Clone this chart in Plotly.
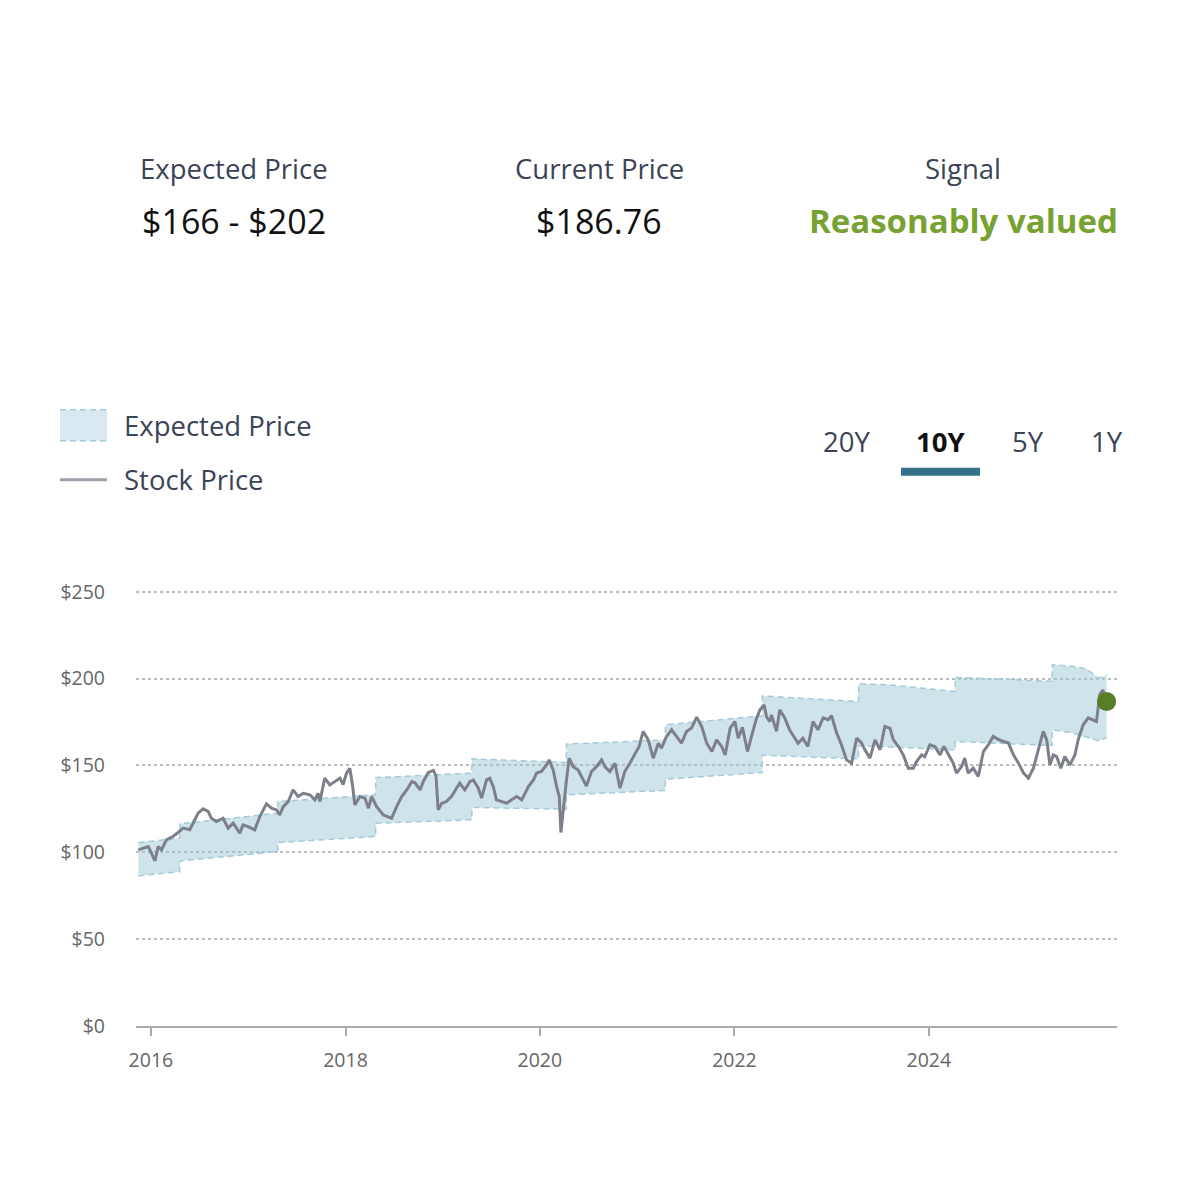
import plotly.graph_objects as go

# ---------------- data ----------------
stock_dates = [
    "2015-11-15", "2015-12-03", "2015-12-22", "2016-01-03", "2016-01-16", "2016-01-28", "2016-02-10",
    "2016-02-28", "2016-03-24", "2016-04-12", "2016-05-01", "2016-05-26", "2016-06-08", "2016-06-26",
    "2016-07-15", "2016-08-03", "2016-08-15", "2016-09-03", "2016-09-28", "2016-10-17", "2016-11-05",
    "2016-11-30", "2016-12-12", "2016-12-31", "2017-01-25", "2017-02-13", "2017-03-10", "2017-03-29",
    "2017-04-17", "2017-04-29", "2017-05-12", "2017-05-31", "2017-06-18", "2017-07-07", "2017-07-26",
    "2017-08-20", "2017-09-08", "2017-09-20", "2017-09-27", "2017-10-15", "2017-11-03", "2017-11-22",
    "2017-12-11", "2017-12-23", "2018-01-05", "2018-01-17", "2018-01-27", "2018-02-05", "2018-02-24",
    "2018-03-15", "2018-03-28", "2018-04-09", "2018-04-28", "2018-05-23", "2018-06-04", "2018-06-23",
    "2018-07-12", "2018-07-31", "2018-08-19", "2018-09-07", "2018-09-19", "2018-10-08", "2018-10-20",
    "2018-11-08", "2018-11-27", "2018-12-07", "2018-12-15", "2018-12-28", "2019-01-15", "2019-02-03",
    "2019-02-22", "2019-03-06", "2019-03-25", "2019-04-13", "2019-04-26", "2019-05-15", "2019-05-27",
    "2019-06-15", "2019-06-27", "2019-07-10", "2019-07-22", "2019-08-10", "2019-08-29", "2019-09-17",
    "2019-10-06", "2019-10-25", "2019-11-19", "2019-12-08", "2019-12-20", "2020-01-07", "2020-01-26",
    "2020-02-05", "2020-02-20", "2020-03-04", "2020-03-14", "2020-03-20", "2020-03-29", "2020-04-10",
    "2020-04-20", "2020-05-05", "2020-05-24", "2020-06-12", "2020-06-24", "2020-07-13", "2020-08-01",
    "2020-08-20", "2020-09-01", "2020-09-20", "2020-10-09", "2020-10-28", "2020-11-15", "2020-12-04",
    "2020-12-23", "2021-01-08", "2021-01-23", "2021-02-11", "2021-03-02", "2021-03-21", "2021-04-02",
    "2021-04-21", "2021-05-10", "2021-05-29", "2021-06-16", "2021-07-05", "2021-07-24", "2021-08-12",
    "2021-08-31", "2021-09-19", "2021-10-08", "2021-10-26", "2021-11-14", "2021-11-27", "2021-12-16",
    "2022-01-03", "2022-01-15", "2022-01-31", "2022-02-19", "2022-03-06", "2022-03-25", "2022-04-07",
    "2022-04-22", "2022-05-02", "2022-05-14", "2022-05-20", "2022-06-08", "2022-06-20", "2022-07-09",
    "2022-07-27", "2022-08-15", "2022-08-28", "2022-09-15", "2022-10-04", "2022-10-23", "2022-11-11",
    "2022-11-30", "2022-12-19", "2023-01-01", "2023-01-20", "2023-02-07", "2023-02-26", "2023-03-17",
    "2023-04-05", "2023-04-24", "2023-05-06", "2023-05-25", "2023-06-13", "2023-07-02", "2023-07-20",
    "2023-08-08", "2023-08-21", "2023-09-09", "2023-09-27", "2023-10-16", "2023-11-04", "2023-11-16",
    "2023-12-05", "2023-12-17", "2024-01-05", "2024-01-24", "2024-02-12", "2024-02-27", "2024-03-14",
    "2024-04-02", "2024-04-14", "2024-05-03", "2024-05-15", "2024-05-28", "2024-06-16", "2024-07-05",
    "2024-07-24", "2024-08-12", "2024-08-30", "2024-09-18", "2024-10-07", "2024-10-26", "2024-11-14",
    "2024-12-03", "2024-12-22", "2025-01-09", "2025-01-28", "2025-02-15", "2025-03-06", "2025-03-19",
    "2025-03-31", "2025-04-13", "2025-04-25", "2025-05-11", "2025-05-26", "2025-06-14", "2025-07-03",
    "2025-07-15", "2025-08-03", "2025-08-22", "2025-09-07", "2025-09-22", "2025-10-04", "2025-10-16",
    "2025-10-30",
]
stock_prices = [
    101.4, 102.3, 103.3, 99.5, 95.0, 103.3, 101.4,
    107.1, 109.1, 111.4, 113.9, 113.0, 116.8, 122.5,
    125.0, 123.5, 119.6, 117.7, 119.6, 113.9, 116.8,
    111.0, 115.8, 114.8, 112.9, 120.6, 127.9, 125.4,
    124.4, 121.5, 126.3, 129.2, 135.9, 132.1, 134.0,
    133.1, 130.2, 134.0, 129.2, 142.7, 138.8, 140.7,
    142.7, 139.0, 145.6, 148.4, 139.0, 127.3, 132.1,
    131.2, 125.4, 132.1, 126.3, 121.5, 120.6, 119.6,
    126.3, 132.1, 135.9, 140.7, 140.0, 135.9, 140.7,
    145.9, 147.1, 143.8, 124.4, 128.1, 129.2, 132.1,
    136.9, 139.8, 135.9, 140.7, 141.7, 136.9, 131.2,
    141.7, 142.6, 137.8, 130.2, 129.2, 128.3, 130.2,
    132.1, 130.2, 137.8, 141.7, 145.6, 146.5, 150.3,
    153.2, 147.4, 137.8, 132.1, 111.4, 126.3, 141.7,
    154.2, 149.3, 147.4, 141.7, 138.2, 146.5, 149.3,
    153.2, 149.3, 146.5, 151.3, 136.9, 146.5, 151.3,
    156.1, 160.9, 169.6, 164.7, 154.2, 162.8, 160.0,
    166.7, 170.5, 166.7, 162.8, 169.6, 171.5, 177.8,
    172.4, 162.8, 158.0, 164.7, 160.9, 156.1, 171.5,
    175.3, 165.7, 171.9, 158.0, 166.7, 177.2, 182.0,
    184.9, 177.8, 175.3, 179.1, 169.6, 182.0, 177.4,
    170.5, 165.7, 162.8, 165.7, 160.9, 175.3, 170.5,
    177.4, 176.3, 178.6, 168.6, 161.9, 153.2, 151.3,
    165.7, 162.8, 159.0, 154.2, 164.7, 159.0, 172.4,
    171.5, 164.7, 160.9, 156.1, 148.4, 148.4, 152.2,
    156.1, 155.1, 161.9, 160.9, 156.1, 160.9, 156.1,
    151.3, 145.6, 149.3, 154.2, 145.6, 148.4, 143.6,
    158.0, 161.9, 166.7, 165.0, 163.8, 163.0, 156.1,
    151.3, 145.6, 142.7, 148.4, 159.0, 169.6, 164.7,
    150.3, 156.1, 155.1, 148.4, 155.1, 150.3, 156.1,
    164.7, 173.4, 177.4, 176.5, 175.3, 190.7, 193.5,
    186.76,
]

band_dates = [
    "2015-11-15", "2016-04-18",
    "2016-04-19", "2017-04-21",
    "2017-04-22", "2018-04-24",
    "2018-04-25", "2019-04-20",
    "2019-04-21", "2020-04-09",
    "2020-04-10", "2021-04-16",
    "2021-04-17", "2022-04-15",
    "2022-04-16", "2023-04-12",
    "2023-04-13", "2023-08-10", "2024-04-09",
    "2024-04-10", "2024-09-15", "2025-04-08",
    "2025-04-09", "2025-06-27", "2025-08-16", "2025-09-29", "2025-10-30",
]
band_upper = [
    105.6, 108.1,
    116.4, 122.5,
    129.2, 133.1,
    143.0, 145.6,
    153.8, 151.7,
    162.3, 164.7,
    173.4, 178.6,
    190.0, 186.8,
    197.0, 196.3, 192.6,
    200.7, 199.8, 198.4,
    208.0, 207.0, 205.5, 200.3, 202.0,
]
band_lower = [
    86.4, 88.9,
    95.0, 100.4,
    105.6, 109.1,
    116.7, 118.7,
    125.8, 124.8,
    133.1, 135.6,
    142.1, 145.9,
    155.9, 153.8,
    161.3, 160.6, 159.0,
    163.8, 162.8, 161.5,
    170.5, 168.6, 166.3, 164.2, 166.0,
]

year_ticks = ["2016-01-01", "2018-01-01", "2020-01-01", "2022-01-01", "2024-01-01"]
year_labels = ["2016", "2018", "2020", "2022", "2024"]
price_ticks = [0, 50, 100, 150, 200, 250]
price_labels = ["$0", "$50", "$100", "$150", "$200", "$250"]

header_labels = ["Expected Price", "Current Price", "Signal"]
expected_low, expected_high = 166, 202
current_price = 186.76
signal_text = "Reasonably valued"
range_options = ["20Y", "10Y", "5Y", "1Y"]
selected_range = "10Y"
legend_labels = ["Expected Price", "Stock Price"]

# ---------------- styling / layout helpers ----------------
FONT = "Open Sans"
PAGE_OFF = 8          # browser body margin
W = H = 1192 - 2 * PAGE_OFF
Y_MAX = 251
PX_PER_UNIT = (1026 - 592) / 250.0
PLOT_L, PLOT_R, PLOT_B = 136, 1117, 1026          # screen pixels
PLOT_T = PLOT_B - Y_MAX * PX_PER_UNIT


def px2x(px):
    return (px - PLOT_L) / (PLOT_R - PLOT_L)


def py2y(py):
    return (PLOT_B - py) / (PLOT_B - PLOT_T)


LABEL_COLOR = "#3b4456"
STOCK_COLOR = "#7d808b"
BAND_FILL = "rgba(160,200,214,0.5)"
BAND_LINE = "#a3cbdb"
GREEN_DOT = "#587d27"
SIGNAL_GREEN = "#77a232"
ACCENT = "#36718c"
LBL = 27.5

fig = go.Figure()

fig.add_trace(go.Scatter(
    x=band_dates, y=band_lower, mode="lines",
    line=dict(color=BAND_LINE, width=1.5, dash="6px,4px"),
    showlegend=False, hoverinfo="skip", name="Expected Price (low)",
))
fig.add_trace(go.Scatter(
    x=band_dates, y=band_upper, mode="lines", fill="tonexty", fillcolor=BAND_FILL,
    line=dict(color=BAND_LINE, width=1.5, dash="6px,4px"),
    showlegend=False, hoverinfo="skip", name="Expected Price",
))
fig.add_trace(go.Scatter(
    x=stock_dates, y=stock_prices, mode="lines",
    line=dict(color=STOCK_COLOR, width=3),
    showlegend=False, name="Stock Price",
))
fig.add_trace(go.Scatter(
    x=[stock_dates[-1]], y=[stock_prices[-1]], mode="markers",
    marker=dict(color=GREEN_DOT, size=19),
    showlegend=False, name="Current Price",
))

annotations = []
shapes = []

# header
header_x = [234, 599, 963]
header_values = [f"${expected_low} - ${expected_high}", f"${current_price:.2f}", f"<b>{signal_text}</b>"]
value_colors = ["#111111", "#111111", SIGNAL_GREEN]
value_sizes = [34, 34, 33]
for hx, lab, val, vc, vs in zip(header_x, header_labels, header_values, value_colors, value_sizes):
    annotations.append(dict(x=px2x(hx), y=py2y(169), xref="paper", yref="paper", text=lab,
                            showarrow=False, xanchor="center", yanchor="middle",
                            font=dict(family=FONT, size=LBL, color=LABEL_COLOR)))
    annotations.append(dict(x=px2x(hx), y=py2y(221), xref="paper", yref="paper", text=val,
                            showarrow=False, xanchor="center", yanchor="middle",
                            font=dict(family=FONT, size=vs, color=vc)))

# legend
shapes.append(dict(type="rect", xref="paper", yref="paper",
                   x0=px2x(60), x1=px2x(107), y0=py2y(441), y1=py2y(410),
                   fillcolor="rgba(160,200,214,0.4)", line=dict(width=0)))
for ly in (410, 441):
    shapes.append(dict(type="line", xref="paper", yref="paper",
                       x0=px2x(60), x1=px2x(107), y0=py2y(ly), y1=py2y(ly),
                       line=dict(color=BAND_LINE, width=1.5, dash="6px,4px")))
shapes.append(dict(type="line", xref="paper", yref="paper",
                   x0=px2x(60), x1=px2x(107), y0=py2y(480), y1=py2y(480),
                   line=dict(color="#9d9ea9", width=3)))
for ly, lab in zip((426, 480), legend_labels):
    annotations.append(dict(x=px2x(122), y=py2y(ly), xref="paper", yref="paper", text=lab,
                            showarrow=False, xanchor="left", yanchor="middle",
                            font=dict(family=FONT, size=LBL, color=LABEL_COLOR)))

# range selector
range_x = [846, 940, 1028, 1107]
for rx, opt in zip(range_x, range_options):
    sel = opt == selected_range
    annotations.append(dict(x=px2x(rx), y=py2y(442), xref="paper", yref="paper",
                            text=f"<b>{opt}</b>" if sel else opt,
                            showarrow=False, xanchor="center", yanchor="middle",
                            font=dict(family=FONT, size=LBL, color="#111111" if sel else LABEL_COLOR)))
shapes.append(dict(type="rect", xref="paper", yref="paper",
                   x0=px2x(901), x1=px2x(980), y0=py2y(476), y1=py2y(468),
                   fillcolor=ACCENT, line=dict(width=0)))

fig.update_layout(
    width=W, height=H,
    margin=dict(l=PLOT_L - PAGE_OFF, r=W - (PLOT_R - PAGE_OFF), t=PLOT_T - PAGE_OFF, b=H - (PLOT_B - PAGE_OFF)),
    paper_bgcolor="white", plot_bgcolor="white",
    font=dict(family=FONT, color="#666666"),
    annotations=annotations, shapes=shapes,
    showlegend=False,
)
fig.update_xaxes(
    type="date", range=["2015-11-06", "2025-12-08"],
    tickvals=year_ticks, ticktext=year_labels,
    showgrid=False, zeroline=False,
    showline=True, linecolor="#aaaaaa", linewidth=2,
    ticks="outside", ticklen=8, tickcolor="#aaaaaa", tickwidth=1.5,
    ticklabelstandoff=8,
    tickfont=dict(family=FONT, size=19.5, color="#666666"),
)
fig.update_yaxes(
    range=[0, Y_MAX], tickvals=price_ticks, ticktext=price_labels,
    showgrid=True, gridcolor="#bbbbbb", gridwidth=1.5, griddash="dot",
    zeroline=False, showline=False, ticks="",
    ticklabelstandoff=30,
    tickfont=dict(family=FONT, size=19.5, color="#666666"),
)

fig.write_html("out.html")
